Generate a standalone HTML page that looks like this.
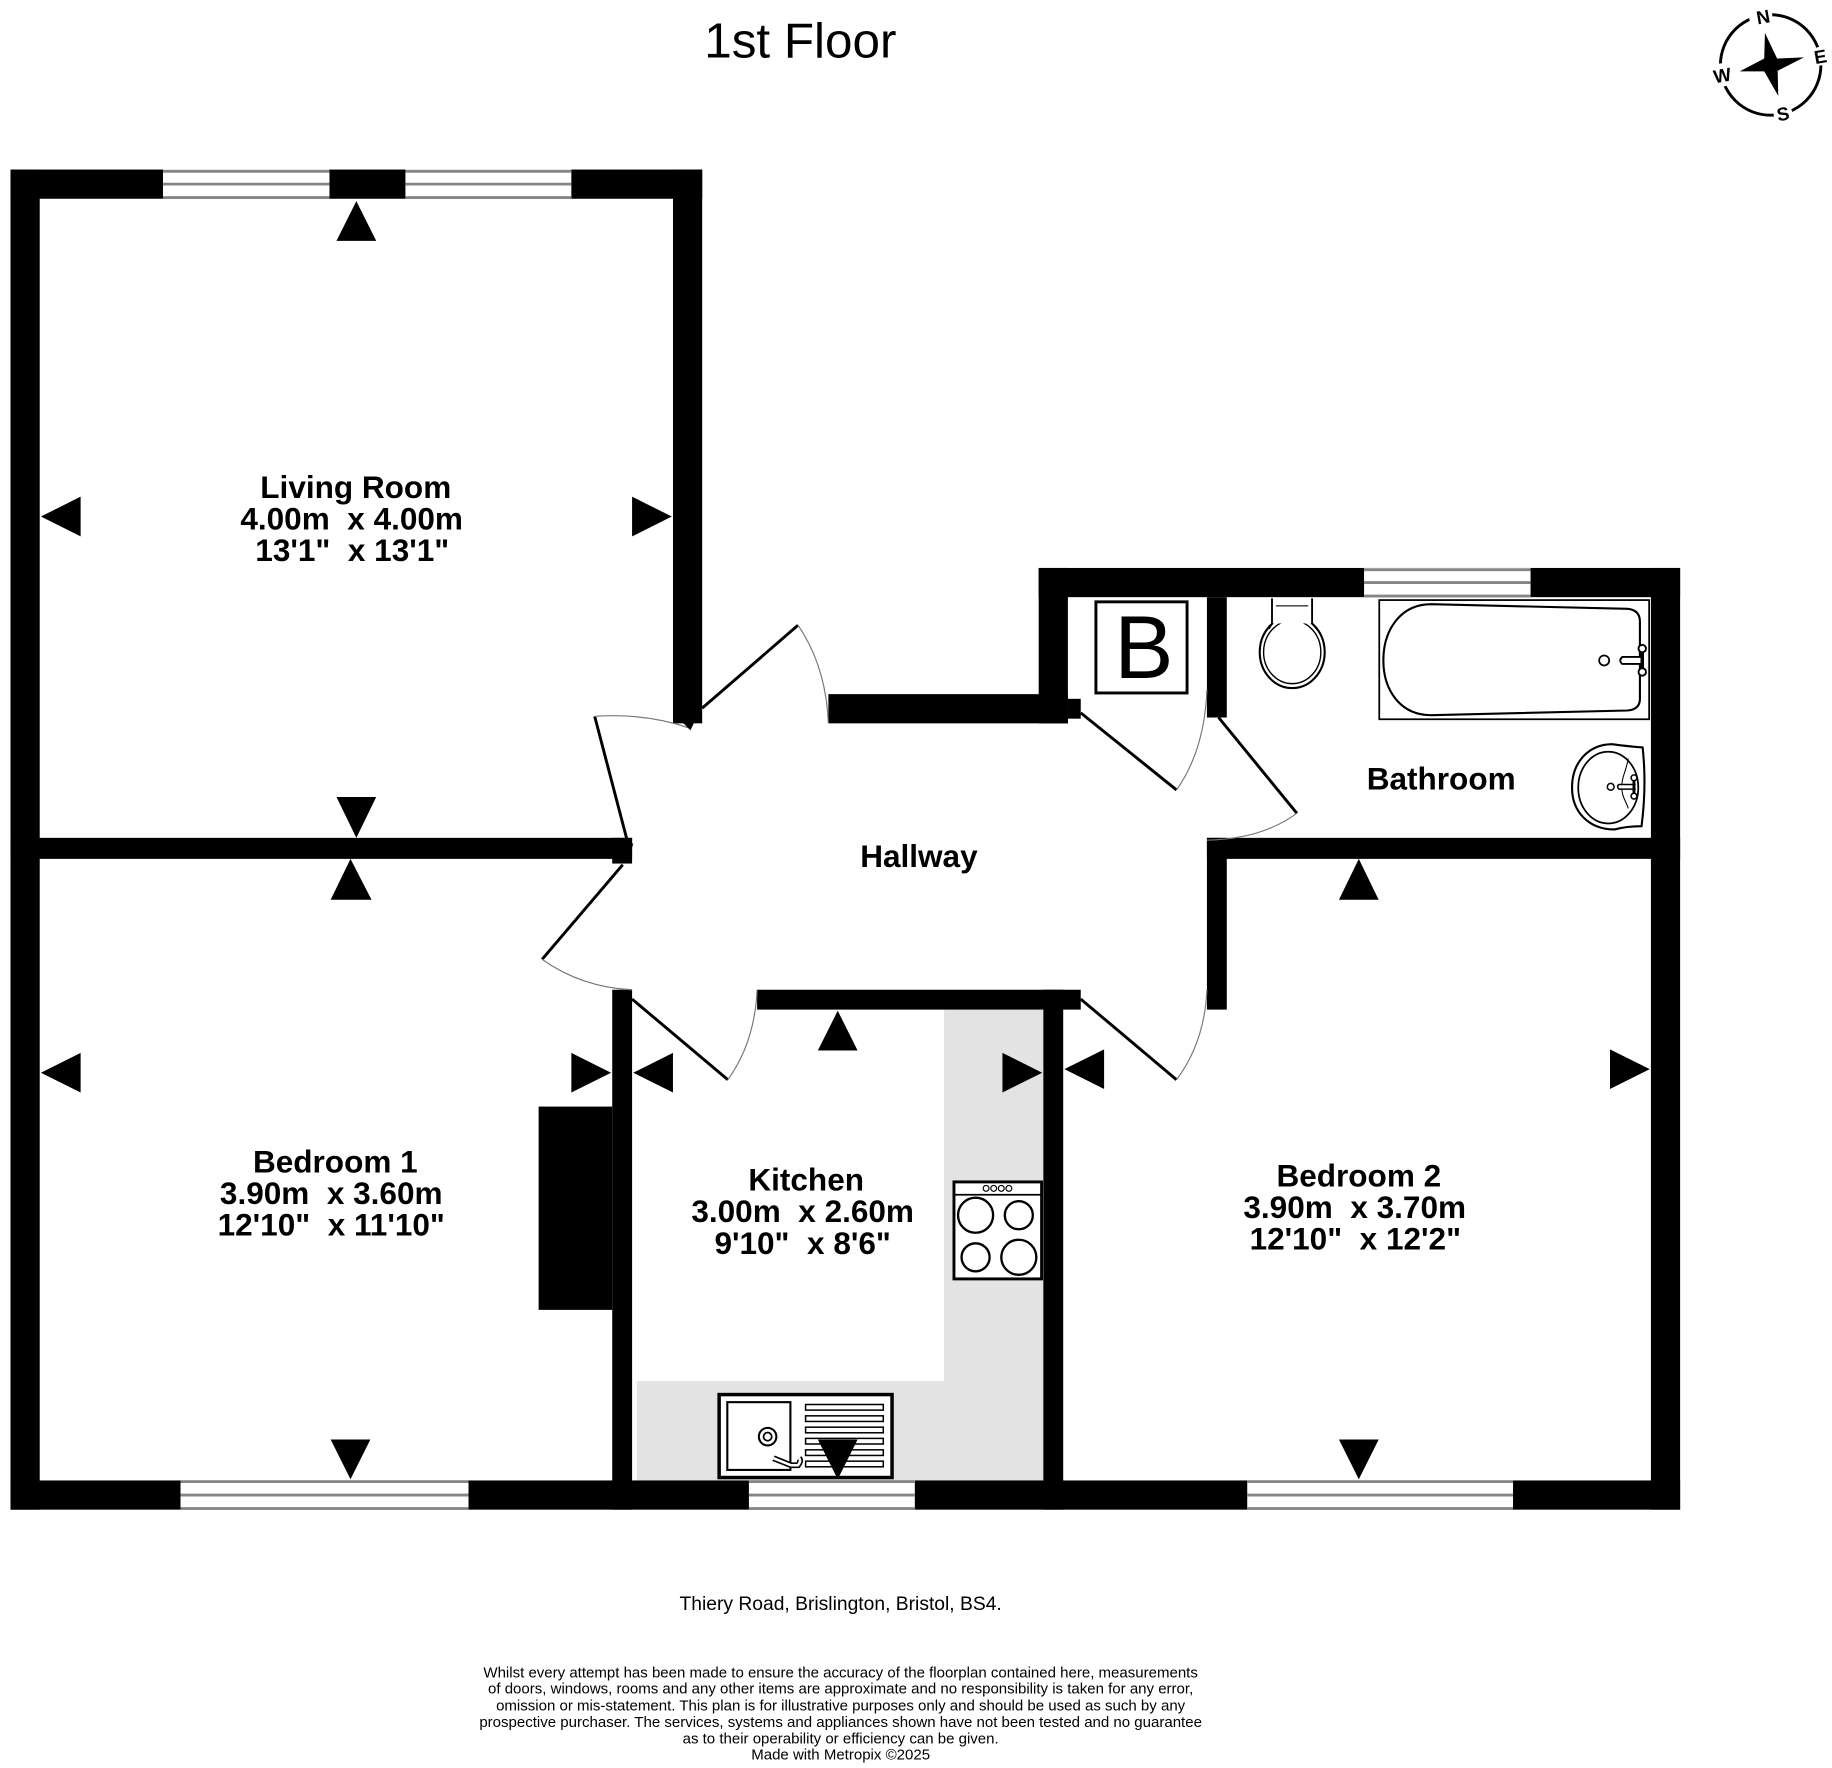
<!DOCTYPE html>
<html><head><meta charset="utf-8"><style>
html,body{margin:0;padding:0;background:#fff}
svg{display:block}
text{font-family:"Liberation Sans",sans-serif;fill:#000;text-anchor:middle}
.r{font-weight:bold;font-size:27px}
.d{font-size:12.870px}
</style></head><body>
<svg width="1832" height="1768" viewBox="0 0 1568 1513" xmlns="http://www.w3.org/2000/svg">
<rect width="1568" height="1513" fill="#fff"/>
<!-- counters -->
<path d="M808 864H893V1267H545V1182H808Z" fill="#e3e3e3"/>
<!-- walls -->
<g fill="#000">
<rect x="9" y="145" width="25" height="1147"/>
<rect x="9" y="145" width="592" height="25"/>
<rect x="576" y="145" width="25" height="474"/>
<rect x="9" y="717" width="532" height="18"/>
<rect x="524" y="717" width="17" height="22"/>
<rect x="9" y="1267" width="1429" height="25"/>
<rect x="524" y="847" width="17" height="445"/>
<rect x="461" y="947" width="63" height="174"/>
<rect x="648" y="847" width="277" height="17"/>
<rect x="893" y="847" width="17" height="445"/>
<rect x="1413" y="486" width="25" height="806"/>
<rect x="889" y="486" width="549" height="25"/>
<rect x="889" y="486" width="25" height="133"/>
<rect x="709" y="594" width="205" height="25"/>
<rect x="914" y="598" width="11" height="17"/>
<rect x="1033" y="511" width="17" height="103"/>
<rect x="1033" y="717" width="405" height="18"/>
<rect x="1033" y="717" width="17" height="147"/>
</g>
<!-- windows -->
<g fill="#fff">
<rect x="139.500" y="145" width="142.500" height="25"/>
<rect x="347" y="145" width="142" height="25"/>
<rect x="1167.500" y="486" width="142.500" height="25"/>
<rect x="154.500" y="1267" width="246.500" height="25"/>
<rect x="641" y="1267" width="142" height="25"/>
<rect x="1067.500" y="1267" width="227.500" height="25"/>
</g>
<g fill="none" stroke="#858585" stroke-width="2.400">
<path d="M139.500 146.500H282M139.500 157.500H282M139.500 169H282"/>
<path d="M347 146.500H489M347 157.500H489M347 169H489"/>
<path d="M1167.500 487.500H1310M1167.500 498.500H1310M1167.500 510H1310"/>
<path d="M154.500 1268H401M154.500 1279.500H401M154.500 1291H401"/>
<path d="M641 1268H783M641 1279.500H783M641 1291H783"/>
<path d="M1067.500 1268H1295M1067.500 1279.500H1295M1067.500 1291H1295"/>
</g>
<!-- doors -->
<g fill="none" stroke="#000" stroke-width="2.500">
<path d="M601 606L683 535"/>
<path d="M537 720L509 613"/>
<path d="M533 740L464 821"/>
<path d="M541 855L623 924"/>
<path d="M925 855L1007 924"/>
<path d="M925 610L1007 676"/>
<path d="M1043 614L1110 696"/>
</g>
<g fill="none" stroke="#777" stroke-width="1">
<path d="M683 535Q707 570 709 619"/>
<path d="M509 613Q552 610 590 623"/>
<path d="M464 821Q498 845 541 847"/>
<path d="M623 924Q646 892 648 847"/>
<path d="M1007 924Q1031 892 1033 847"/>
<path d="M1007 676Q1031 642 1033 590"/>
<path d="M1110 696Q1080 718 1033 719"/>
</g>
<path d="M578 612L591 625L597 612Z" fill="#000"/>
<path d="M529 717L542 722L538 735L525 735Z" fill="#000"/>
<!-- arrowheads -->
<g fill="#000">
<path d="M305 172L288 206H322Z"/>
<path d="M305 717L288 682H322Z"/>
<path d="M35 442L69 425V459Z"/>
<path d="M575 442L541 425V459Z"/>
<path d="M300 735L283 770H318Z"/>
<path d="M35 918L69 901V935Z"/>
<path d="M523 918L489 901V935Z"/>
<path d="M300 1266L283 1232H317Z"/>
<path d="M717 865L700 899H734Z"/>
<path d="M542 918L576 901V935Z"/>
<path d="M892 918L858 901V935Z"/>
<path d="M911 915L945 898V932Z"/>
<path d="M1163 735L1146 770H1180Z"/>
<path d="M1412 915L1378 898V932Z"/>
<path d="M1163 1266L1146 1232H1180Z"/>
</g>
<!-- hob -->
<g fill="none" stroke="#000">
<rect x="816.500" y="1011.500" width="75" height="83" fill="#fff" stroke-width="2.500"/>
<path d="M816 1022.500H892" stroke-width="1.500"/>
<g stroke-width="1"><circle cx="844" cy="1017" r="2.500"/><circle cx="850.500" cy="1017" r="2.500"/><circle cx="857" cy="1017" r="2.500"/><circle cx="863.500" cy="1017" r="2.500"/></g>
<g stroke-width="2"><circle cx="835" cy="1040" r="15"/><circle cx="872" cy="1040" r="12"/><circle cx="835" cy="1076" r="12"/><circle cx="872" cy="1076" r="15"/></g>
</g>
<!-- sink -->
<g fill="none" stroke="#000">
<rect x="615.500" y="1193.500" width="148" height="71" fill="#fff" stroke-width="3"/>
<rect x="622.500" y="1200" width="54" height="58" stroke-width="1.800"/>
<circle cx="657" cy="1229.500" r="7.500" stroke-width="1.800"/><circle cx="657" cy="1229.500" r="3.500" stroke-width="1.500"/>
<g stroke-width="1.300"><rect x="689.500" y="1202" width="66.500" height="4.800"/><rect x="689.500" y="1211.700" width="66.500" height="4.800"/><rect x="689.500" y="1221.400" width="66.500" height="4.800"/><rect x="689.500" y="1231" width="66.500" height="4.800"/><rect x="689.500" y="1240.800" width="66.500" height="4.800"/><rect x="689.500" y="1250.500" width="66.500" height="4.800"/></g>
<path d="M662 1248L677 1254L683 1254Q686 1250 684 1248" stroke-width="5"/>
<path d="M662 1248L677 1254L683 1254Q686 1250 684 1248" stroke="#fff" stroke-width="2.200"/>
</g>
<path d="M717 1266L700 1232H734Z" fill="#000"/>
<!-- boiler -->
<rect x="938" y="515" width="78" height="78" fill="#fff" stroke="#000" stroke-width="2.500"/>
<text x="979" y="580" style="font-size:76px">B</text>
<!-- toilet -->
<g fill="none" stroke="#000">
<ellipse cx="1106" cy="558" rx="27.800" ry="30.800" stroke-width="1.800"/>
<ellipse cx="1106" cy="558" rx="24.500" ry="27" stroke-width="1.200"/>
</g>
<rect x="1089" y="512" width="34" height="21.500" fill="#fff"/>
<path d="M1088.700 512V533.500L1086 538M1123 512V533.500L1126 537" stroke="#000" stroke-width="1.600" fill="none"/>
<path d="M1092 518.400H1119.700" stroke="#555" stroke-width="1.400" fill="none"/>
<!-- bath -->
<g fill="none" stroke="#000">
<rect x="1180.500" y="513.500" width="231" height="102" stroke-width="1.500"/>
<path d="M1225 517L1393 521Q1403.600 522 1403.600 532V598Q1403.600 607 1393 608L1225 612C1198 612 1184 590 1184 565C1184 540 1198 517 1225 517Z" stroke-width="1.800"/>
<circle cx="1373" cy="565.200" r="4.300" stroke-width="1.500"/>
<path d="M1405 562.200H1388.500Q1385 565.200 1388.500 568.200H1405" fill="#fff" stroke-width="1.600"/>
<path d="M1405.600 558V572" stroke-width="3"/>
<circle cx="1405.600" cy="555" r="3.200" fill="#fff" stroke-width="1.600"/><circle cx="1405.600" cy="575" r="3.200" fill="#fff" stroke-width="1.600"/>
</g>
<!-- basin -->
<g fill="none" stroke="#000">
<path d="M1405.900 639.600Q1409.500 672 1405 707Q1392 707 1382 709.800C1360 709.800 1345.500 695 1345.500 674C1345.500 652 1360 636.800 1380 636.800Q1392 638.500 1405.900 639.600Z" stroke-width="1.800"/>
<ellipse cx="1376.500" cy="674" rx="25.700" ry="30.700" stroke-width="1.500"/>
<path d="M1393.600 649C1392 660 1388 664 1388 673.300C1388 682 1392 686 1393.600 691.800" stroke-width="0.900"/>
<circle cx="1378.600" cy="673.300" r="2.900" stroke-width="1.300"/>
<path d="M1400 671.300H1385.500Q1383.500 673.300 1385.500 675.300H1400" fill="#fff" stroke-width="1.300"/>
<path d="M1398.500 668V679" stroke-width="2.500"/>
<circle cx="1398.500" cy="665.600" r="2.500" fill="#fff" stroke-width="1.300"/><circle cx="1398.500" cy="681.300" r="2.500" fill="#fff" stroke-width="1.300"/>
</g>
<!-- labels -->
<text class="r" x="304.500" y="426">Living Room</text>
<text class="r" x="301" y="453" xml:space="preserve">4.00m  x 4.00m</text>
<text class="r" x="301.500" y="480" xml:space="preserve">13'1"  x 13'1"</text>
<text class="r" x="287" y="1003.500">Bedroom 1</text>
<text class="r" x="283.500" y="1030.500" xml:space="preserve">3.90m  x 3.60m</text>
<text class="r" x="283.500" y="1057.500" xml:space="preserve">12'10"  x 11'10"</text>
<text class="r" x="690" y="1019">Kitchen</text>
<text class="r" x="687" y="1046" xml:space="preserve">3.00m  x 2.60m</text>
<text class="r" x="687" y="1073" xml:space="preserve">9'10"  x 8'6"</text>
<text class="r" x="1163" y="1015.500">Bedroom 2</text>
<text class="r" x="1159.500" y="1042.500" xml:space="preserve">3.90m  x 3.70m</text>
<text class="r" x="1160" y="1069.500" xml:space="preserve">12'10"  x 12'2"</text>
<text class="r" x="1233.500" y="675.500">Bathroom</text>
<text class="r" x="786.500" y="742">Hallway</text>
<text x="685" y="49" style="font-size:42.300px">1st Floor</text>
<text x="719.500" y="1378" style="font-size:16.500px">Thiery Road, Brislington, Bristol, BS4.</text>
<text class="d" x="719.500" y="1435.500">Whilst every attempt has been made to ensure the accuracy of the floorplan contained here, measurements</text>
<text class="d" x="719.500" y="1449.500">of doors, windows, rooms and any other items are approximate and no responsibility is taken for any error,</text>
<text class="d" x="719.500" y="1464">omission or mis-statement. This plan is for illustrative purposes only and should be used as such by any</text>
<text class="d" x="719.500" y="1478">prospective purchaser. The services, systems and appliances shown have not been tested and no guarantee</text>
<text class="d" x="719.500" y="1492">as to their operability or efficiency can be given.</text>
<text class="d" x="719.500" y="1506">Made with Metropix ©2025</text>
<!-- compass -->
<circle cx="1515.500" cy="55.500" r="43" fill="none" stroke="#000" stroke-width="2.500"/>
<path d="M1510.600 28L1521 50L1544 49L1521.500 60.500L1522 82L1510 61L1489 61L1510 50Z" fill="#000"/>
<g style="font-weight:bold;font-size:16px">
<circle cx="1507" cy="14" r="10" fill="#fff"/><circle cx="1558" cy="48" r="8" fill="#fff"/><circle cx="1526" cy="97" r="8" fill="#fff"/><circle cx="1474" cy="64" r="10" fill="#fff"/>
<text x="1509" y="20" transform="rotate(-10 1509 14)">N</text>
<text x="1558" y="54" transform="rotate(-10 1558 48)">E</text>
<text x="1526" y="103" transform="rotate(-10 1526 97)">S</text>
<text x="1474" y="70" transform="rotate(-10 1474 64)">W</text>
</g>
</svg>
</body></html>
